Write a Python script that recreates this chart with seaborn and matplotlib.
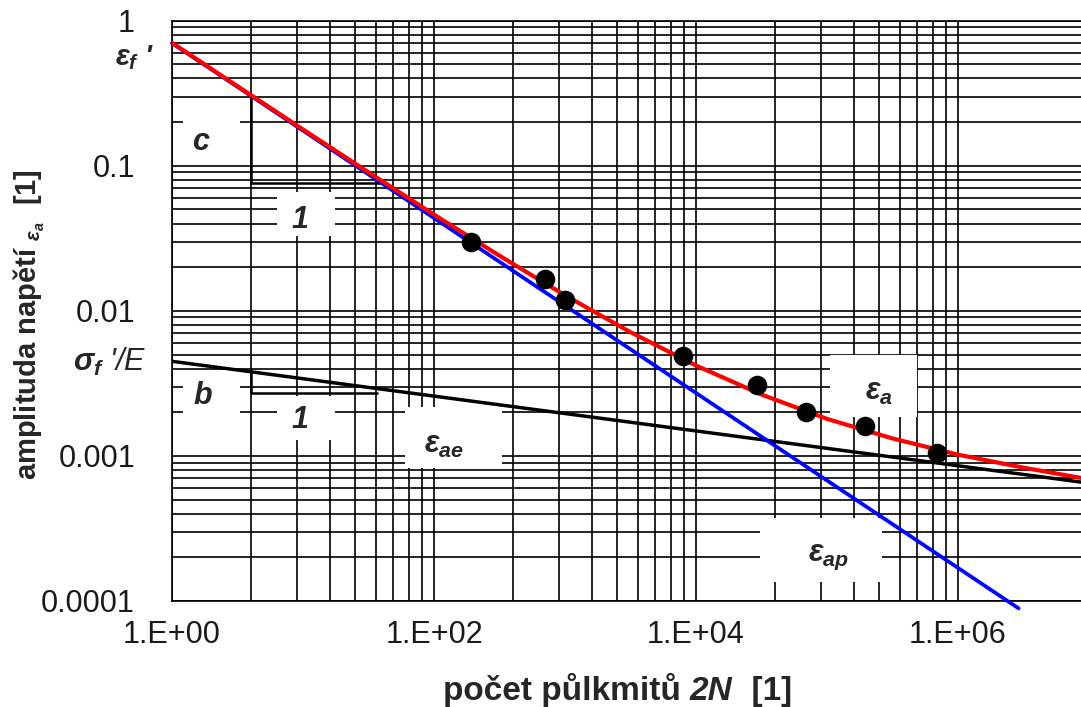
import seaborn as sns
import matplotlib.pyplot as plt
from matplotlib.ticker import FixedLocator, NullFormatter
from matplotlib.patches import Rectangle

# --- data ---
# measured points (2N, strain amplitude)
cycles_pts = [190, 700, 1000, 8000, 29400, 68800, 195000, 695000]
strain_pts = [0.0297, 0.0165, 0.0119, 0.0049, 0.0031, 0.0020, 0.00162, 0.00104]

# total strain curve (red)
total_x = [1, 3.16, 10, 31.6, 100, 316, 1000, 3160, 1e4, 3.16e4, 1e5, 3.16e5, 1e6, 3.16e6, 8.7e6]
total_y = [0.704, 0.354, 0.178, 0.0902, 0.0461, 0.0240, 0.0128, 0.00713, 0.00420,
           0.00265, 0.00180, 0.00132, 0.00102, 0.00083, 0.000705]

# plastic part (blue) and elastic part (black), straight in log-log
plastic_x = [1, 2.9e6]
plastic_y = [0.70, 8.9e-5]
elastic_x = [1, 8.7e6]
elastic_y = [0.00449, 0.00066]

# slope triangles
tri_c_x = [4, 4, 40]
tri_c_y = [0.298, 0.076, 0.076]
tri_b_x = [4, 4, 37]
tri_b_y = [0.00382, 0.00273, 0.00273]

xticks = [1, 1e2, 1e4, 1e6]
xticklabels = ["1.E+00", "1.E+02", "1.E+04", "1.E+06"]
yticks = [1e-4, 1e-3, 1e-2, 1e-1, 1]
yticklabels = ["0.0001", "0.001", "0.01", "0.1", "1"]

# white label boxes: (x0, x1, y0, y1), the text inside and its centre
boxes = [
    ((1.21, 3.3, 0.108, 0.26), "c", (1.66, 0.146)),
    ((6.33, 17.5, 0.033, 0.066), "1", (9.5, 0.0423)),
    ((1.21, 3.3, 0.00129, 0.00379), "b", (1.72, 0.00259)),
    ((6.33, 17.5, 0.00129, 0.0026), "1", (9.5, 0.00177)),
    ((60, 330, 0.00082, 0.00218), r"$\varepsilon_{ae}$", (119, 0.00119)),
    ((105400, 486000, 0.00186, 0.00497), r"$\varepsilon_{a}$", (250000, 0.00276)),
    ((30800, 263000, 0.000135, 0.000374), r"$\varepsilon_{ap}$", (101800, 0.000201)),
]

sns.set_style("white")
plt.rcParams["font.family"] = ["Liberation Sans", "DejaVu Sans"]
plt.rcParams["mathtext.fontset"] = "custom"
plt.rcParams["mathtext.rm"] = "Liberation Sans:bold"
plt.rcParams["mathtext.it"] = "Liberation Sans:italic:bold"
plt.rcParams["mathtext.bf"] = "Liberation Sans:bold"

W, H = 1081, 707
fig = plt.figure(figsize=(W / 100, H / 100), dpi=100)
ax = fig.add_axes([172 / W, 106 / H, 909 / W, 580.3 / H])
ax.set_xscale("log")
ax.set_yscale("log")
ax.set_xlim(1, 8.69e6)
ax.set_ylim(1e-4, 1)

# grid: y normal decades, x has the stretched 2-decade pattern
ax.set_xticks(xticks, xticklabels)
xminor = [n * n * 100 ** k for k in range(3) for n in range(2, 10)]
ax.xaxis.set_minor_locator(FixedLocator(xminor))
ax.xaxis.set_minor_formatter(NullFormatter())
ax.set_yticks(yticks, yticklabels)
yminor = [n * 10.0 ** k for k in range(-4, 0) for n in range(2, 10)]
ax.yaxis.set_minor_locator(FixedLocator(yminor))
ax.yaxis.set_minor_formatter(NullFormatter())
ax.set_axisbelow(True)
ax.grid(which="both", color="black", lw=1.2)

ax.tick_params(axis="y", which="major", direction="out", length=8.6, width=1.2,
               color="black", pad=18, labelsize=22, labelcolor="#1a1a1a")
ax.tick_params(axis="x", which="major", length=0, pad=14, labelsize=22,
               labelcolor="#1a1a1a")
ax.tick_params(which="minor", length=0)

for side in ["left", "bottom", "top"]:
    ax.spines[side].set_color("black")
    ax.spines[side].set_linewidth(1.2)
ax.spines["right"].set_visible(False)

for (x0, x1, y0, y1), txt, (tx, ty) in boxes:
    ax.add_patch(Rectangle((x0, y0), x1 - x0, y1 - y0, facecolor="white",
                           edgecolor="none", zorder=1))
    ax.text(tx, ty, txt, fontsize=22, ha="center", va="center", zorder=6,
            fontweight="bold", fontstyle="italic")

# slope triangles
ax.plot(tri_c_x, tri_c_y, color="black", lw=1.8, zorder=2)
ax.plot(tri_b_x, tri_b_y, color="black", lw=1.8, zorder=2)

sns.lineplot(x=elastic_x, y=elastic_y, color="black", lw=2.5, ax=ax,
             estimator=None, sort=False, zorder=3)
sns.lineplot(x=plastic_x, y=plastic_y, color="#0000ff", lw=2.7, ax=ax,
             estimator=None, sort=False, zorder=3, clip_on=False)
sns.lineplot(x=total_x, y=total_y, color="#ff0000", lw=3, ax=ax,
             estimator=None, sort=False, zorder=4)
sns.scatterplot(x=cycles_pts, y=strain_pts, s=170, color="black",
                edgecolor="black", ax=ax, zorder=5)

# material constants on the y axis
ax.text(0.73, 0.56, r"$\varepsilon_f$ '", fontsize=21, ha="right",
        va="center", clip_on=False, fontweight="bold", fontstyle="italic")
ax.text(0.645, 0.00444, r"$\sigma_f$ '/E", fontsize=22, ha="right",
        va="center", clip_on=False, fontstyle="italic")

# x label: bold, with "2N" in bold italic
lab1 = fig.text(690 / W, 1 - 690 / H, "počet půlkmitů ", fontsize=24,
                fontweight="bold", ha="right", va="center")
lab2 = ax.annotate("2N", xy=(1, 0), xycoords=lab1, va="bottom", ha="left",
                   fontsize=24, fontweight="bold", fontstyle="italic",
                   annotation_clip=False)
ax.annotate("  [1]", xy=(1, 0), xycoords=lab2, va="bottom", ha="left",
            fontsize=24, fontweight="bold", annotation_clip=False)

fig.text(29 / W, 1 - 325 / H, r"amplituda napětí $_{\varepsilon_a}$  [1]",
         fontsize=21, fontweight="bold", rotation=90, ha="center", va="center")

fig.savefig("out.png", dpi=100)
